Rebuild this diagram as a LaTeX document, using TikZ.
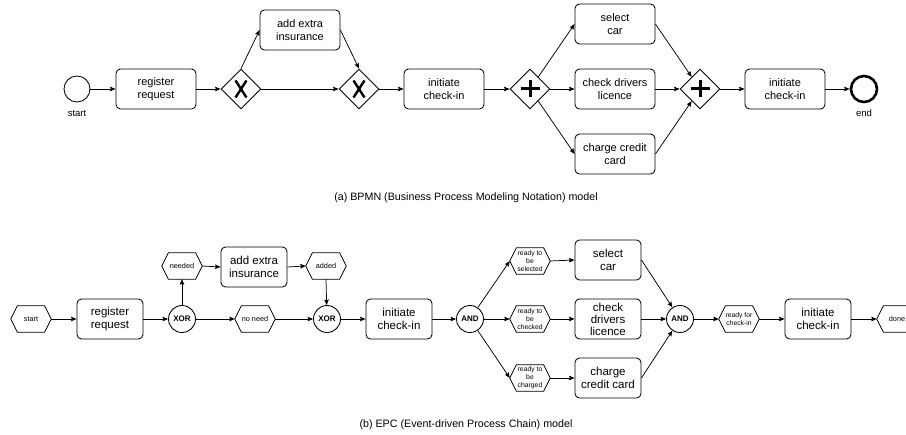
\documentclass[tikz,border=0pt]{standalone}
\usepackage{fontspec}
\setmainfont{Liberation Sans}
\usetikzlibrary{shapes.geometric,arrows.meta,calc}

\begin{document}
\begin{tikzpicture}[x=1pt,y=-1pt,
  every node/.style={font=\fontsize{11}{12.5}\selectfont, inner sep=0pt, align=center},
  flow/.style={-{Stealth[length=5.5pt,width=4.5pt,inset=0.8pt]}, line width=0.75pt},
  task/.style={draw, rounded corners=4.5pt, minimum width=80pt, minimum height=40pt, line width=0.85pt},
  gate/.style={draw, diamond, minimum width=40pt, minimum height=40pt, line width=0.85pt},
  startev/.style={draw, circle, minimum size=26pt, line width=0.85pt},
  endev/.style={draw, circle, minimum size=26pt, line width=2.6pt},
  evlabel/.style={font=\fontsize{9.5}{11}\selectfont},
  func/.style={draw, rounded corners=4.5pt, minimum width=66pt, minimum height=40pt, line width=0.85pt, font=\fontsize{11.5}{12.5}\selectfont},
  event/.style={minimum width=40pt, minimum height=26pt, font=\fontsize{7.3}{8}\selectfont},
  smallev/.style={event, font=\fontsize{6.8}{8}\selectfont},
  conn/.style={draw, circle, minimum size=27pt, line width=0.85pt, font=\bfseries\fontsize{8}{9}\selectfont},
  caption/.style={font=\fontsize{10.7}{12}\selectfont},
  xmark/.style={line width=2.4pt},
  plusmark/.style={line width=3pt}
]
\clip (0,0) rectangle (906,435);

% ---------- (a) BPMN ----------
\node[startev] (bstart) at (77,89) {};
\node[evlabel] (bstartl) at (77,113) {start};
\node[task] (breg) at (156,89) {register\\request};
\node[gate] (bx1) at (241,89) {};
\node[task] (bins) at (300,30) {add extra\\insurance};
\node[gate] (bx2) at (359,89) {};
\node[task] (binit) at (444,89) {initiate\\check-in};
\node[gate] (bp1) at (530,89) {};
\node[task] (bsel) at (615,24) {select\\car};
\node[task] (bchk) at (615,89) {check drivers\\licence};
\node[task] (bchg) at (615,154) {charge credit\\card};
\node[gate] (bp2) at (700,89) {};
\node[task] (binit2) at (785,89) {initiate\\check-in};
\node[endev] (bend) at (864,89) {};
\node[evlabel] (bendl) at (864,113) {end};

% gateway markers
\foreach \g in {bx1,bx2}{
  \draw[xmark] ($(\g.center)+(-5.5,-8.5)$) -- ($(\g.center)+(5.5,8.5)$);
  \draw[xmark] ($(\g.center)+(5.5,-8.5)$) -- ($(\g.center)+(-5.5,8.5)$);
}
\foreach \g in {bp1,bp2}{
  \draw[plusmark] ($(\g.center)+(-9.5,0)$) -- ($(\g.center)+(9.5,0)$);
  \draw[plusmark] ($(\g.center)+(0,-8.5)$) -- ($(\g.center)+(0,8.5)$);
}

\draw[flow] (bstart) -- (breg);
\draw[flow] (breg) -- (bx1);
\draw[flow] (bx1.north) -- (bins.west);
\draw[flow] (bins.east) -- (bx2.north);
\draw[flow] (bx1.east) -- (bx2.west);
\draw[flow] (bx2) -- (binit);
\draw[flow] (binit) -- (bp1);
\draw[flow] (bp1) -- (bsel.west);
\draw[flow] (bp1) -- (bchk.west);
\draw[flow] (bp1) -- (bchg.west);
\draw[flow] (bsel.east) -- (bp2);
\draw[flow] (bchk.east) -- (bp2);
\draw[flow] (bchg.east) -- (bp2);
\draw[flow] (bp2) -- (binit2);
\draw[flow] (binit2) -- (bend);

\node[caption] (capa) at (466,198) {(a) BPMN (Business Process Modeling Notation) model};

% ---------- (b) EPC ----------
\node[event] (estart) at (31,319) {start};
\node[func] (ereg) at (110,319) {register\\request};
\node[conn] (exor1) at (182,319) {XOR};
\node[event] (eneed) at (182,266) {needed};
\node[func] (eins) at (254,267) {add extra\\insurance};
\node[event] (eadded) at (326,266) {added};
\node[event] (enoneed) at (255,319) {no need};
\node[conn] (exor2) at (327,319) {XOR};
\node[func] (einit) at (399,319) {initiate\\check-in};
\node[conn] (eand1) at (470,319) {AND};
\node[smallev] (ers) at (530,261) {ready to\\be\\selected};
\node[smallev] (erc) at (530,319) {ready to\\be\\checked};
\node[smallev] (erg) at (530,378) {ready to\\be\\charged};
\node[func] (esel) at (608,260) {select\\car};
\node[func, font=\fontsize{11.5}{12}\selectfont] (echk) at (608,319) {check\\drivers\\licence};
\node[func] (echg) at (608,378) {charge\\credit card};
\node[conn] (eand2) at (680,319) {AND};
\node[smallev] (erf) at (739,319) {ready for\\check-in};
\node[func] (einit2) at (818,319) {initiate\\check-in};
\node[event] (edone) at (897,319) {done};

% hexagonal event outlines
\foreach \n in {estart,eneed,eadded,enoneed,ers,erc,erg,erf,edone}{
  \draw[line width=0.8pt] (\n.west) -- ($(\n.north west)+(6.5,0)$) -- ($(\n.north east)+(-6.5,0)$)
    -- (\n.east) -- ($(\n.south east)+(-6.5,0)$) -- ($(\n.south west)+(6.5,0)$) -- cycle;
}

\draw[flow] (estart.east) -- (ereg);
\draw[flow] (ereg) -- (exor1);
\draw[flow] (exor1) -- (eneed.south);
\draw[flow] (eneed.east) -- (eins.west);
\draw[flow] (eins.east) -- (eadded.west);
\draw[flow] (eadded.south) -- (exor2);
\draw[flow] (exor1) -- (enoneed.west);
\draw[flow] (enoneed.east) -- (exor2);
\draw[flow] (exor2) -- (einit);
\draw[flow] (einit) -- (eand1);
\draw[flow] (eand1) -- (ers.west);
\draw[flow] (eand1) -- (erc.west);
\draw[flow] (eand1) -- (erg.west);
\draw[flow] (ers.east) -- (esel.west);
\draw[flow] (erc.east) -- (echk.west);
\draw[flow] (erg.east) -- (echg.west);
\draw[flow] (esel.east) -- (eand2);
\draw[flow] (echk.east) -- (eand2);
\draw[flow] (echg.east) -- (eand2);
\draw[flow] (eand2) -- (erf.west);
\draw[flow] (erf.east) -- (einit2);
\draw[flow] (einit2) -- (edone.west);

\node[caption] (capb) at (466,425) {(b) EPC (Event-driven Process Chain) model};
\end{tikzpicture}
\end{document}
